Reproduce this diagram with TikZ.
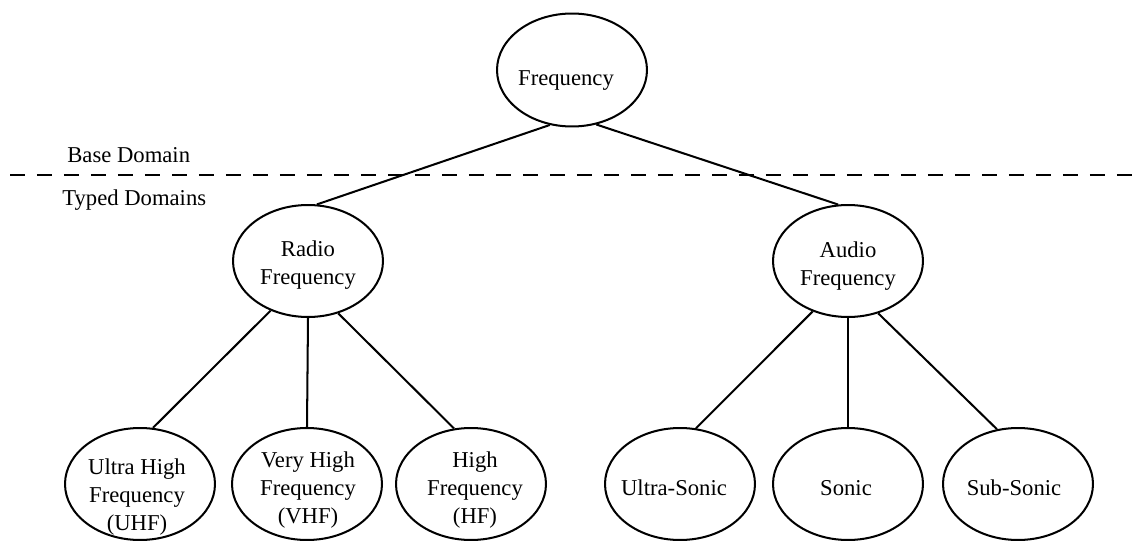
\documentclass[tikz,border=0pt]{standalone}
\usepackage{fontspec}
\setmainfont{Liberation Serif}
\usetikzlibrary{shapes.geometric}
\begin{document}
\begin{tikzpicture}[x=0.02cm,y=-0.02cm,
  txt/.style={font=\fontsize{12.9}{15.9}\selectfont, align=center, inner sep=0pt, text=black},
  every label/.style={txt},
  oval/.style={ellipse, draw=black, line width=1.15pt, minimum width=3cm, minimum height=2.24cm, inner sep=0pt},
  link/.style={draw=black, line width=1.15pt},
  sep/.style={draw=black, line width=1.2pt, dash pattern=on 0.3cm off 0.24cm}]
\useasboundingbox (0,0) rectangle (1137,541);
% separator
\coordinate (sepL) at (10,175);
\coordinate (sepR) at (1132,175);
\draw[sep] (sepL) -- (sepR);
\node[txt, anchor=base west] (base) at (67,162) {Base Domain};
\node[txt, anchor=base west] (typed) at (62,205) {Typed Domains};
% nodes
\node[oval, minimum height=2.26cm, label={[shift={(-6,11)}]center:Frequency}] (freq) at (572,70) {};
\node[oval, label={[shift={(0,4)}]center:Radio\\Frequency}] (radio) at (308,261) {};
\node[oval, label={[shift={(0,5)}]center:Audio\\Frequency}] (audio) at (848,261) {};
\node[oval, label={[shift={(-3,13)}]center:Ultra High\\Frequency\\(UHF)}] (uhf) at (140,484) {};
\node[oval, label={[shift={(1,6)}]center:Very High\\Frequency\\(VHF)}] (vhf) at (307,484) {};
\node[oval, label={[shift={(4,6)}]center:High\\Frequency\\(HF)}] (hf) at (471,484) {};
\node[oval, label={[shift={(-6,4)}]center:Ultra-Sonic}] (usonic) at (680,484) {};
\node[oval, label={[shift={(-2,4)}]center:Sonic}] (sonic) at (848,484) {};
\node[oval, label={[shift={(-4,4)}]center:Sub-Sonic}] (subsonic) at (1018,484) {};
% connectors
\draw[link] (freq.248) -- (radio.81);
\draw[link] (freq.294) -- (audio.100);
\draw[link] (radio.233) -- (uhf.77);
\draw[link] (radio.270) -- (vhf.90);
\draw[link] (radio.300) -- (hf.107);
\draw[link] (audio.235) -- (usonic.74);
\draw[link] (audio.270) -- (sonic.90);
\draw[link] (audio.300) -- (subsonic.111);
\end{tikzpicture}
\end{document}
